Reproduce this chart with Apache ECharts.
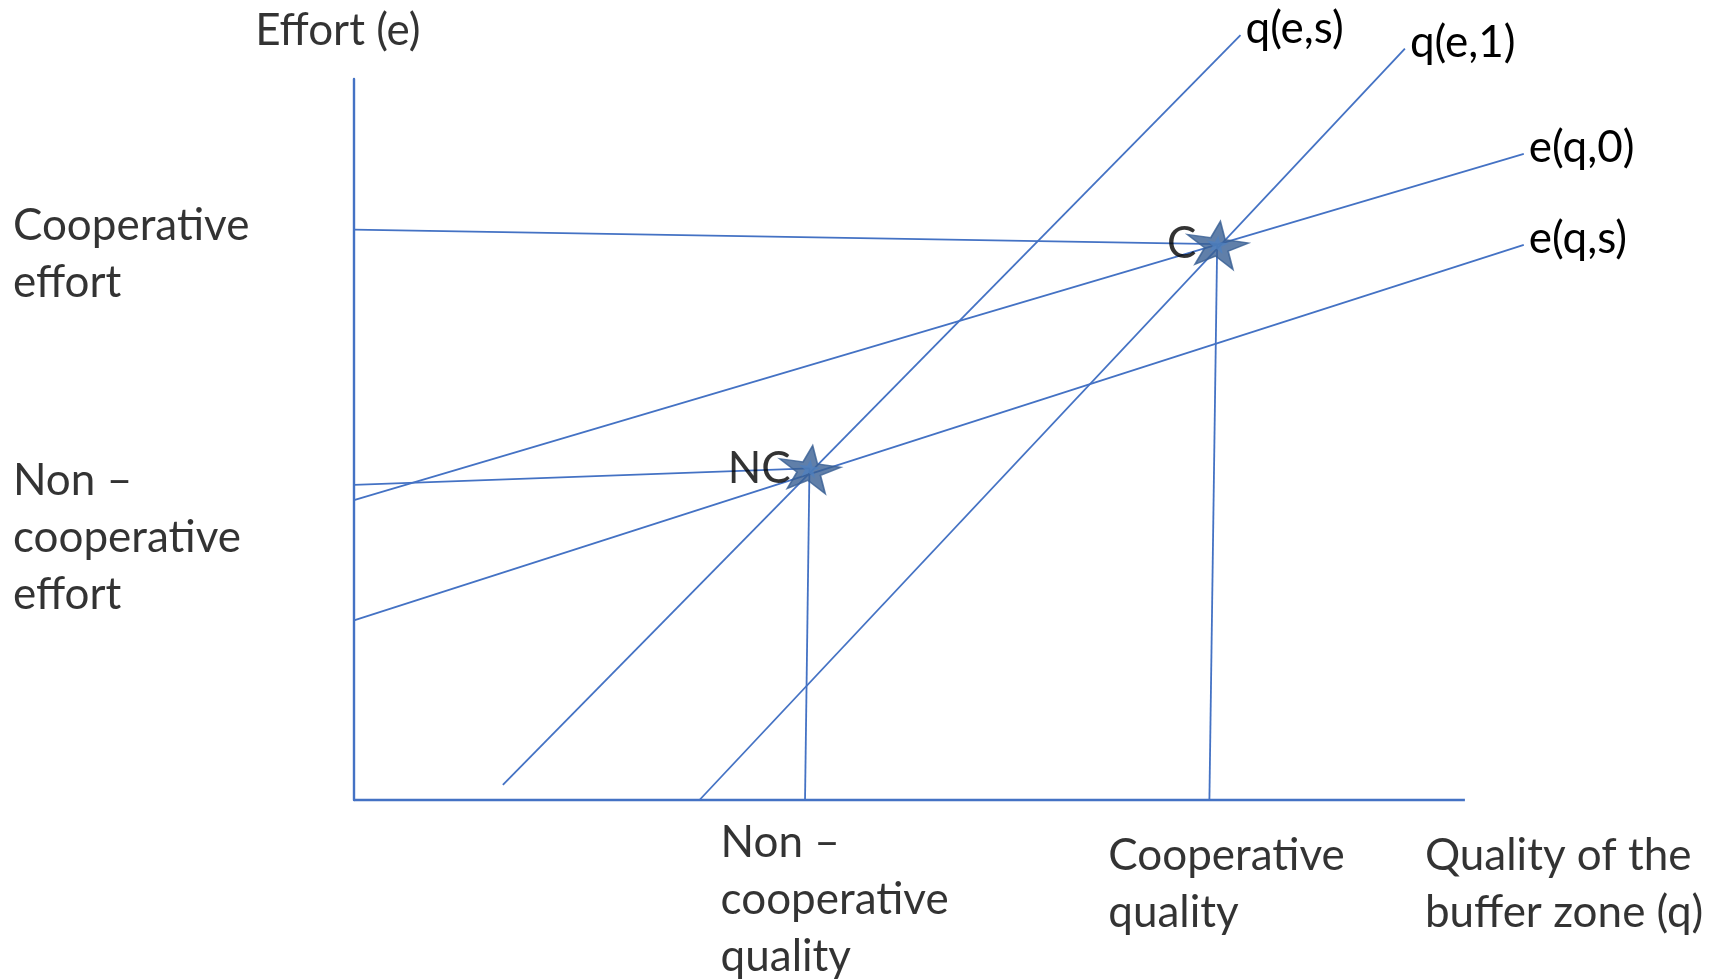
<!DOCTYPE html>
<html><head><meta charset="utf-8">
<script src="https://cdn.jsdelivr.net/npm/echarts@6/dist/echarts.min.js"></script>
<style>html,body{margin:0;padding:0;background:#fff}#c{width:1723px;height:980px}</style>
</head><body><div id="c"></div>
<script>
// Curves: [q, e] endpoints in data units (q: quality on x, e: effort on y; axes drawn 0-100)
const curveNames = ['q(e,s)', 'q(e,1)', 'e(q,0)', 'e(q,s)'];
const curve_qes = [[13.4, 2.1], [79.8, 106.1]];
const curve_qe1 = [[31.1, 0], [94.6, 104.2]];
const curve_eq0 = [[0, 41.6], [105.3, 89.6]];
const curve_eqs = [[0, 24.9], [105.3, 77.0]];
// Equilibria
const eqNames = ['NC', 'C'];
const eqPoints = [[41.0, 46.0], [77.7, 77.1]];
// Guide lines from axes to equilibria
const guideC_effort = [[0, 79.1], [77.7, 77.1]];
const guideNC_effort = [[0, 43.7], [41.0, 46.0]];
const guideC_quality = [[77.0, 0], [77.7, 77.1]];
const guideNC_quality = [[40.6, 0], [41.0, 46.0]];
// Axis extents
const qAxisLine = [[0, 0], [100, 0]];
// Text annotations: [q, e, text]
const annotations = [
  [-8.9, 106.7, 'Effort (e)'],
  [-30.7, 75.7, 'Cooperative\neffort'],
  [-30.7, 36.4, 'Non –\ncooperative\neffort'],
  [33.0, -13.8, 'Non –\ncooperative\nquality'],
  [67.9, -11.7, 'Cooperative\nquality'],
  [96.4, -11.7, 'Quality of the\nbuffer zone (q)']
];

const BLUE = '#4472C4';
const FONT = 'Lato';
const FS = 44;
const chart = echarts.init(document.getElementById('c'), null, {renderer: 'canvas'});
const starPath = 'path://M0,-1 L0.2245,-0.309 L0.951,-0.309 L0.363,0.118 L0.588,0.809 L0,0.382 L-0.588,0.809 L-0.363,0.118 L-0.951,-0.309 L-0.2245,-0.309 Z';

function lineSeries(data, name, withLabel, width) {
  return {
    type: 'line', name: name, data: data, clip: false, symbol: 'none', silent: true,
    lineStyle: {color: BLUE, width: width || 1.8}, animation: false,
    endLabel: withLabel ? {show: true, formatter: name, color: '#000', fontFamily: FONT, fontSize: FS, distance: 5, offset: [0, -6]} : {show: false}
  };
}

const option = {
  animation: false,
  backgroundColor: '#fff',
  grid: {left: 354, top: 79, right: 147, bottom: 180, containLabel: false},
  xAxis: {type: 'value', min: 0, max: 110, axisLine: {show: false},
    axisTick: {show: false}, axisLabel: {show: false}, splitLine: {show: false}},
  yAxis: {type: 'value', min: 0, max: 100, axisLine: {show: true, lineStyle: {color: BLUE, width: 2.4}},
    axisTick: {show: false}, axisLabel: {show: false}, splitLine: {show: false}},
  series: [
    lineSeries(qAxisLine, 'qAxis', false, 2.4),
    lineSeries(guideC_effort, 'gCe', false),
    lineSeries(guideNC_effort, 'gNCe', false),
    lineSeries(guideC_quality, 'gCq', false),
    lineSeries(guideNC_quality, 'gNCq', false),
    lineSeries(curve_qes, curveNames[0], true),
    lineSeries(curve_qe1, curveNames[1], true),
    lineSeries(curve_eq0, curveNames[2], true),
    lineSeries(curve_eqs, curveNames[3], true),
    {
      type: 'scatter', clip: false, silent: true, z: 5,
      symbol: starPath, symbolSize: [62, 46], symbolRotate: -8,
      itemStyle: {color: '#385F93', borderColor: '#385F93', borderWidth: 1.5},
      data: eqPoints.map((p, i) => ({value: p, name: eqNames[i],
        label: {show: true, position: 'left', distance: i === 0 ? -16 : -14, formatter: eqNames[i],
          color: '#000', fontFamily: FONT, fontSize: FS}}))
    },
    {
      type: 'scatter', clip: false, silent: true, z: 6,
      symbol: starPath, symbolSize: [22, 18], symbolRotate: -8,
      itemStyle: {color: '#4F7FBE'},
      data: eqPoints
    },
    {
      type: 'scatter', clip: false, silent: true, symbolSize: 0,
      data: annotations.map(a => ({value: [a[0], a[1]],
        label: {show: true, position: 'right', distance: 0, formatter: a[2], align: 'left',
          color: '#000', fontFamily: FONT, fontSize: FS, lineHeight: 57}}))
    }
  ]
};
chart.setOption(option);
</script></body></html>
